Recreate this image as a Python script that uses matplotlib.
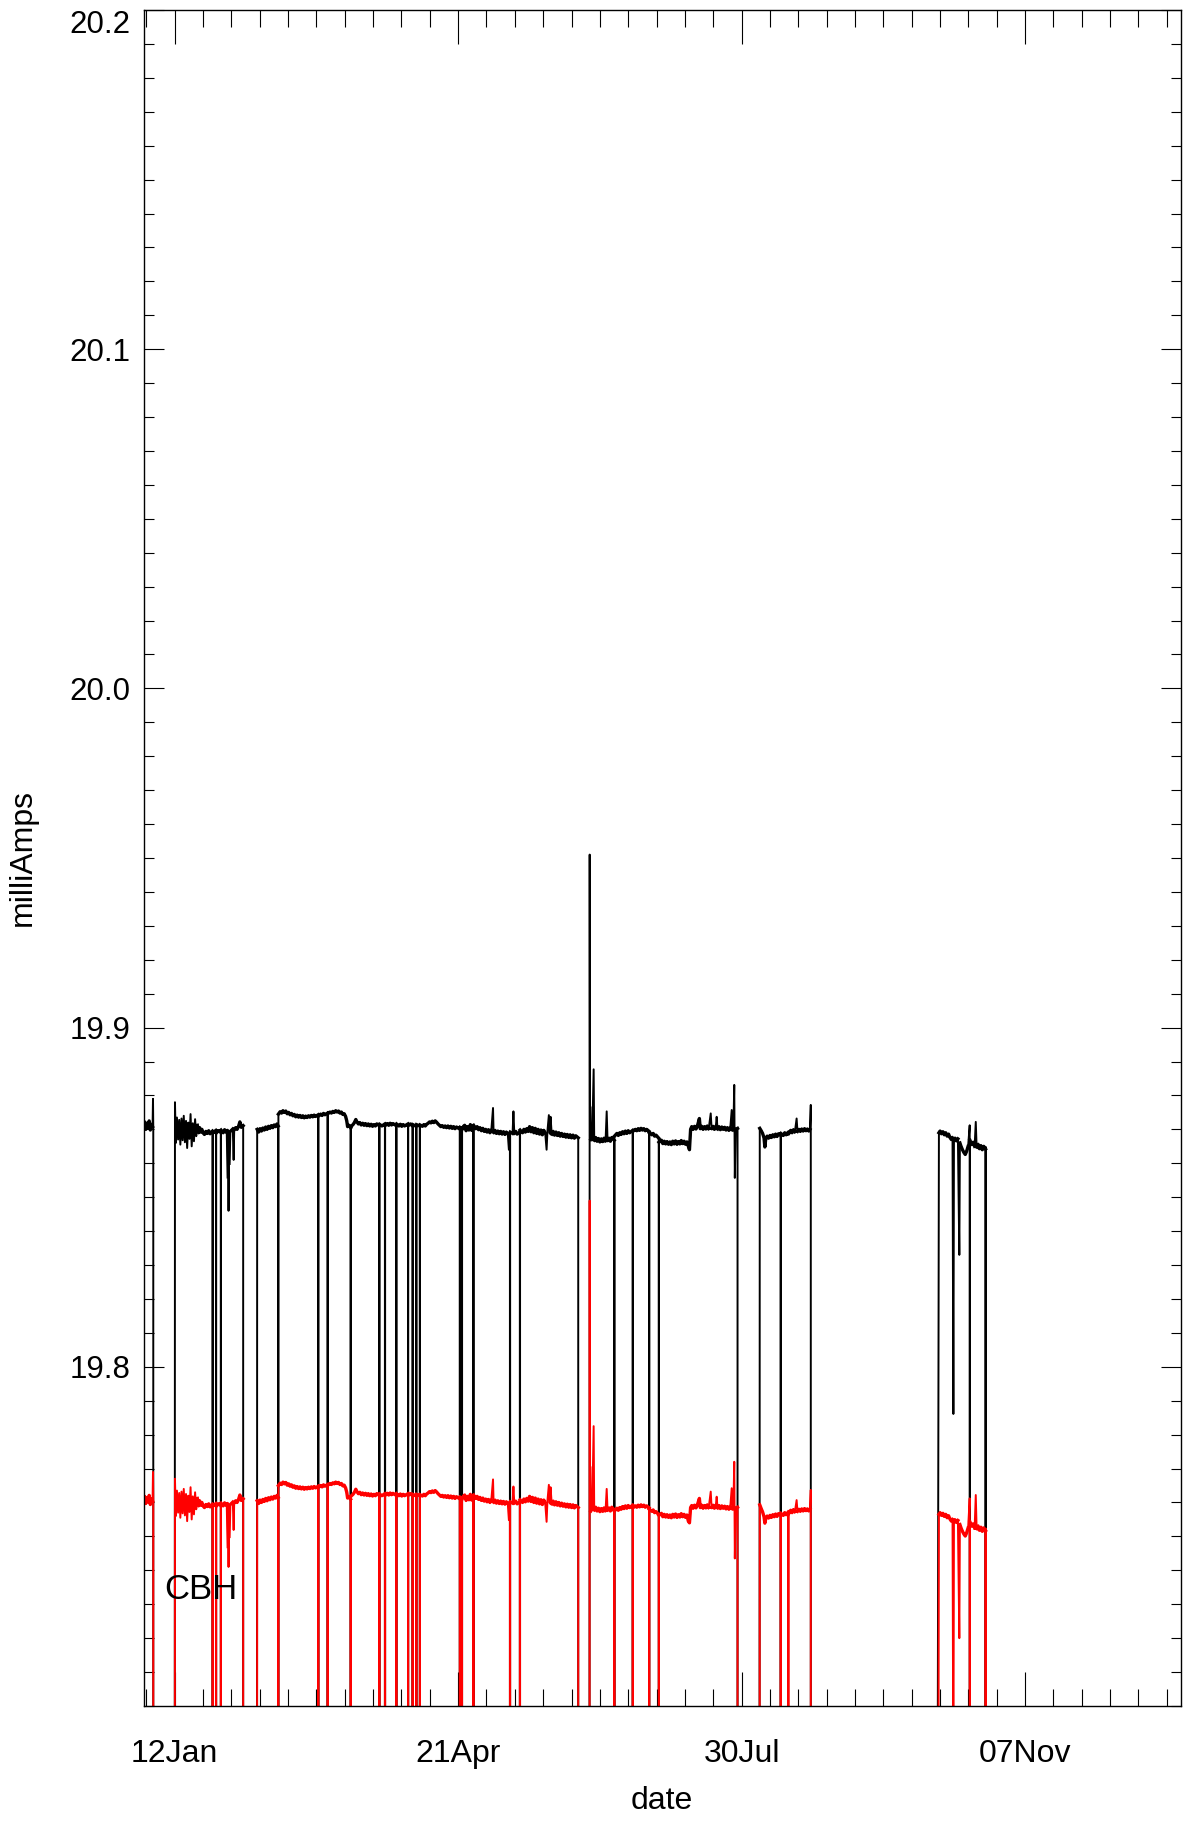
import numpy as np
import matplotlib
matplotlib.use("Agg")
import matplotlib.pyplot as plt
import matplotlib.dates as mdates
from matplotlib.ticker import FixedLocator, MultipleLocator

plt.rcParams['font.family'] = ['Liberation Sans', 'DejaVu Sans']

year_start = np.datetime64('2008-01-01T00:00')

# days since 1 Jan, CBH current (mA) black trace and red trace, one block per data stretch
d1 = [0.0, 0.4, 0.8, 1.2, 1.6, 2.0, 2.4, 2.8, 3.2, 3.35, 3.45]
b1 = [19.8712, 19.8722, 19.8700, 19.8718, 19.8705, 19.8725, 19.8698, 19.8715, 19.8708, 19.8790, 19.8705]
r1 = [19.7608, 19.7618, 19.7597, 19.7614, 19.7602, 19.7621, 19.7594, 19.7611, 19.7604, 19.7690, 19.7600]

d2 = [11.1, 11.4, 11.8, 12.2, 12.6, 13.0, 13.4, 13.8, 14.2, 14.6, 15.0, 15.4, 15.8, 16.2, 16.6, 17.0,
      17.4, 17.8, 18.2, 18.6, 19.0, 19.4, 19.8, 20.2, 20.6,
      21.0, 21.5, 22.0, 22.5, 23.0, 23.5, 24.36,
      24.44, 25.56, 25.64, 26.4, 27.26, 27.34, 28.1, 28.6, 29.1, 29.6,
      29.9, 30.0, 30.15, 30.4,
      31.0, 31.5, 31.8, 32.0, 32.5, 33.0, 33.5, 34.0, 34.5, 35.16]
b2 = [19.8780, 19.8660, 19.8735, 19.8670, 19.8728, 19.8655, 19.8732, 19.8668, 19.8740, 19.8662, 19.8725,
      19.8645, 19.8720, 19.8672, 19.8745, 19.8650, 19.8718, 19.8665, 19.8730, 19.8680, 19.8712, 19.8690,
      19.8705, 19.8692, 19.8700,
      19.8690, 19.8685, 19.8694, 19.8688, 19.8696, 19.8687, 19.8695,
      19.8690, 19.8697, 19.8689, 19.8696, 19.8691, 19.8698, 19.8690, 19.8699, 19.8692, 19.8697,
      19.8560, 19.8460, 19.8600, 19.8692,
      19.8697, 19.8701, 19.8610, 19.8699, 19.8705, 19.8700, 19.8708, 19.8722, 19.8706, 19.8711]
r2 = [19.7670, 19.7560, 19.7635, 19.7570, 19.7628, 19.7555, 19.7632, 19.7568, 19.7640, 19.7562, 19.7625,
      19.7545, 19.7620, 19.7572, 19.7645, 19.7550, 19.7618, 19.7565, 19.7630, 19.7580, 19.7612, 19.7590,
      19.7605, 19.7592, 19.7600,
      19.7590, 19.7585, 19.7594, 19.7588, 19.7596, 19.7587, 19.7595,
      19.7590, 19.7597, 19.7589, 19.7596, 19.7591, 19.7598, 19.7590, 19.7599, 19.7592, 19.7597,
      19.7470, 19.7410, 19.7500, 19.7592,
      19.7597, 19.7601, 19.7519, 19.7599, 19.7605, 19.7600, 19.7608, 19.7622, 19.7606, 19.7611]

d3a = [40.1, 40.6, 41.1, 41.6, 42.1, 42.6, 43.1, 43.6, 44.1, 44.6, 45.1, 45.6, 46.1, 46.6, 47.1, 47.51,
       47.59, 48.2, 48.7, 49.2, 49.7, 50.2, 50.7, 51.2, 51.7, 52.2, 52.7, 53.2, 53.7, 54.2, 54.7, 55.2,
       55.7, 56.2, 56.7, 57.2, 57.7, 58.2, 58.7, 59.2, 59.7, 60.2, 60.7, 61.62,
       61.7, 62.5, 63.0, 63.5, 64.0, 64.93,
       65.01, 65.8, 66.3, 66.8, 67.3, 67.8, 68.3, 68.8, 69.3, 69.8, 70.3, 70.8,
       71.3, 71.7, 72.0, 72.5, 73.06]
b3a = [19.8700, 19.8692, 19.8702, 19.8695, 19.8704, 19.8698, 19.8707, 19.8700, 19.8709, 19.8703, 19.8711,
       19.8705, 19.8713, 19.8708, 19.8716, 19.8710,
       19.8745, 19.8752, 19.8748, 19.8755, 19.8750, 19.8754, 19.8746, 19.8750, 19.8743, 19.8747, 19.8740,
       19.8744, 19.8737, 19.8742, 19.8736, 19.8741, 19.8735, 19.8740, 19.8734, 19.8739, 19.8735, 19.8740,
       19.8736, 19.8741, 19.8737, 19.8742, 19.8738, 19.8743,
       19.8739, 19.8745, 19.8741, 19.8747, 19.8743, 19.8748,
       19.8746, 19.8751, 19.8748, 19.8753, 19.8750, 19.8755, 19.8751, 19.8754, 19.8748, 19.8751, 19.8744,
       19.8746,
       19.8738, 19.8725, 19.8708, 19.8712, 19.8705]
r3a = [19.7605, 19.7597, 19.7607, 19.7600, 19.7609, 19.7603, 19.7612, 19.7605, 19.7614, 19.7608, 19.7616,
       19.7610, 19.7618, 19.7613, 19.7621, 19.7615,
       19.7650, 19.7657, 19.7653, 19.7660, 19.7655, 19.7659, 19.7651, 19.7655, 19.7648, 19.7652, 19.7645,
       19.7649, 19.7642, 19.7647, 19.7641, 19.7646, 19.7640, 19.7645, 19.7639, 19.7644, 19.7640, 19.7645,
       19.7641, 19.7646, 19.7642, 19.7647, 19.7643, 19.7648,
       19.7644, 19.7650, 19.7646, 19.7652, 19.7648, 19.7653,
       19.7651, 19.7656, 19.7653, 19.7658, 19.7655, 19.7660, 19.7656, 19.7659, 19.7653, 19.7656, 19.7649,
       19.7651,
       19.7643, 19.7630, 19.7613, 19.7617, 19.7610]

d3b = [73.14, 73.9, 74.4, 74.9, 75.3, 75.8, 76.3, 76.8, 77.3, 77.8, 78.3, 78.8, 79.3, 79.8, 80.3, 80.8,
       81.3, 81.8, 82.3, 83.16,
       83.24, 84.1, 85.16,
       85.24, 86.0, 86.5, 87.0, 87.5, 88.0, 89.16,
       89.24, 90.1, 90.6, 91.1, 91.6, 92.1, 93.31,
       93.39, 94.2, 94.91,
       94.99, 96.21,
       96.29, 97.46,
       97.54, 98.4, 98.9, 99.4, 99.9, 100.4, 100.9, 101.4, 101.9, 102.4, 102.9, 103.4, 103.9, 104.4,
       104.9, 105.4, 105.9, 106.4, 106.9, 107.4, 107.9, 108.4, 108.9, 109.4, 109.9, 110.4, 111.56,
       111.64, 112.31, 112.39, 112.9, 113.3, 113.8, 114.3, 114.8, 115.3, 115.8, 116.36]
b3b = [19.8708, 19.8714, 19.8720, 19.8729, 19.8722, 19.8716, 19.8720, 19.8713, 19.8718, 19.8712, 19.8717,
       19.8711, 19.8716, 19.8710, 19.8715, 19.8709, 19.8714, 19.8710, 19.8716, 19.8711,
       19.8715, 19.8710, 19.8716,
       19.8711, 19.8717, 19.8712, 19.8718, 19.8713, 19.8717, 19.8711,
       19.8716, 19.8710, 19.8715, 19.8709, 19.8714, 19.8710, 19.8716,
       19.8711, 19.8716, 19.8710,
       19.8714, 19.8709,
       19.8714, 19.8710,
       19.8713, 19.8709, 19.8714, 19.8710, 19.8715, 19.8718, 19.8722, 19.8719, 19.8724, 19.8720, 19.8725,
       19.8721, 19.8716, 19.8712, 19.8708, 19.8711, 19.8706, 19.8710, 19.8705, 19.8710, 19.8704, 19.8709,
       19.8703, 19.8708, 19.8702, 19.8707, 19.8701,
       19.8706, 19.8703, 19.8700, 19.8709, 19.8712, 19.8696, 19.8708, 19.8698, 19.8714, 19.8697, 19.8704]
r3b = [19.7618, 19.7624, 19.7630, 19.7639, 19.7632, 19.7626, 19.7630, 19.7623, 19.7628, 19.7622, 19.7627,
       19.7621, 19.7626, 19.7620, 19.7625, 19.7619, 19.7624, 19.7620, 19.7626, 19.7621,
       19.7625, 19.7620, 19.7626,
       19.7621, 19.7627, 19.7622, 19.7628, 19.7623, 19.7627, 19.7621,
       19.7626, 19.7620, 19.7625, 19.7619, 19.7624, 19.7620, 19.7626,
       19.7621, 19.7626, 19.7620,
       19.7624, 19.7619,
       19.7624, 19.7620,
       19.7623, 19.7619, 19.7624, 19.7620, 19.7625, 19.7628, 19.7632, 19.7629, 19.7634, 19.7630, 19.7635,
       19.7631, 19.7626, 19.7622, 19.7618, 19.7621, 19.7616, 19.7620, 19.7615, 19.7620, 19.7614, 19.7619,
       19.7613, 19.7618, 19.7612, 19.7617, 19.7611,
       19.7616, 19.7613, 19.7610, 19.7619, 19.7622, 19.7606, 19.7618, 19.7608, 19.7624, 19.7607, 19.7614]

d3c = [116.44, 117.2, 117.7, 118.2, 118.7, 119.2, 119.7, 120.2, 120.7, 121.2, 121.7, 122.2, 122.7,
       123.3,
       123.5, 124.0, 124.5, 125.0, 125.5, 126.0, 126.5, 127.0, 127.5, 128.0, 128.5,
       128.9, 129.26,
       129.34, 130.2, 130.5, 130.8, 131.3, 131.8, 132.76,
       132.84, 133.7, 134.2, 134.7, 135.2, 135.7, 136.2, 136.7, 137.2, 137.7, 138.2, 138.7, 139.2, 139.7,
       140.2, 140.7, 141.2, 141.7,
       142.2, 142.5, 143.0, 143.3, 143.6,
       144.0, 144.5, 145.0, 145.5, 146.0, 146.5, 147.0, 147.5, 148.0, 148.5, 149.0, 149.5, 150.0, 150.5,
       151.0, 151.5, 152.0, 152.5, 153.36]
b3c = [19.8712, 19.8702, 19.8708, 19.8699, 19.8705, 19.8696, 19.8703, 19.8694, 19.8700, 19.8692, 19.8699,
       19.8690, 19.8697,
       19.8763,
       19.8691, 19.8697, 19.8688, 19.8695, 19.8687, 19.8694, 19.8686, 19.8693, 19.8685, 19.8692, 19.8687,
       19.8640, 19.8690,
       19.8692, 19.8688, 19.8753, 19.8689, 19.8694, 19.8686, 19.8692,
       19.8698, 19.8690, 19.8700, 19.8692, 19.8702, 19.8694, 19.8708, 19.8693, 19.8705, 19.8690, 19.8703,
       19.8688, 19.8700, 19.8686, 19.8698, 19.8684, 19.8697, 19.8690,
       19.8640, 19.8695, 19.8742, 19.8688, 19.8737,
       19.8686, 19.8694, 19.8683, 19.8692, 19.8682, 19.8690, 19.8680, 19.8688, 19.8679, 19.8686, 19.8677,
       19.8685, 19.8676, 19.8684, 19.8675, 19.8683, 19.8674, 19.8681, 19.8675]
r3c = [19.7622, 19.7612, 19.7618, 19.7609, 19.7615, 19.7606, 19.7613, 19.7604, 19.7610, 19.7602, 19.7609,
       19.7600, 19.7607,
       19.7668,
       19.7601, 19.7607, 19.7598, 19.7605, 19.7597, 19.7604, 19.7596, 19.7603, 19.7595, 19.7602, 19.7597,
       19.7548, 19.7600,
       19.7602, 19.7598, 19.7647, 19.7599, 19.7604, 19.7596, 19.7602,
       19.7608, 19.7600, 19.7610, 19.7602, 19.7612, 19.7604, 19.7618, 19.7603, 19.7615, 19.7600, 19.7613,
       19.7598, 19.7610, 19.7596, 19.7608, 19.7594, 19.7607, 19.7600,
       19.7543, 19.7605, 19.7652, 19.7598, 19.7645,
       19.7596, 19.7604, 19.7593, 19.7602, 19.7592, 19.7600, 19.7590, 19.7598, 19.7589, 19.7596, 19.7587,
       19.7595, 19.7586, 19.7594, 19.7585, 19.7593, 19.7584, 19.7591, 19.7585]

d4 = [157.4, 157.5, 157.6, 157.8, 158.3, 158.8,
      159.0, 159.5, 160.0, 160.5, 161.0, 161.5, 162.0, 162.5, 163.0,
      163.4,
      163.7, 164.2, 164.7, 165.2, 166.06,
      166.14, 167.0, 167.5, 168.0, 168.5, 169.0, 169.5, 170.0, 170.5, 171.0, 171.5, 172.56,
      172.64, 173.5, 174.0, 174.5, 175.0, 175.5, 176.0, 176.5, 177.0, 177.5, 178.36,
      178.44, 179.3, 179.8, 180.3, 180.8, 181.76,
      181.84, 182.7, 183.2, 183.7, 184.2, 184.7, 185.2, 185.7, 186.2, 186.7, 187.2, 187.7, 188.2, 188.7,
      189.2, 189.7, 190.2, 190.7, 191.2, 191.7,
      192.2, 192.6, 193.0,
      193.4, 193.9, 194.4, 194.9, 195.4,
      196.1,
      196.4, 196.9, 197.4, 197.9, 198.4, 198.9, 199.4,
      200.1,
      200.4, 200.9, 201.4, 201.9,
      202.2,
      202.5, 203.0, 203.5, 204.0, 204.5, 205.0, 205.5, 206.0, 206.5, 207.0,
      207.5, 207.8, 208.1, 208.4, 208.6, 208.9, 209.56]
b4 = [19.9510, 19.8680, 19.8767, 19.8670, 19.8675, 19.8877,
      19.8668, 19.8676, 19.8665, 19.8673, 19.8663, 19.8672, 19.8664, 19.8674, 19.8666,
      19.8753,
      19.8668, 19.8674, 19.8665, 19.8676, 19.8668,
      19.8680, 19.8688, 19.8682, 19.8690, 19.8685, 19.8693, 19.8687, 19.8695, 19.8688, 19.8696, 19.8690,
      19.8697,
      19.8694, 19.8700, 19.8696, 19.8702, 19.8697, 19.8703, 19.8698, 19.8702, 19.8696, 19.8700, 19.8694,
      19.8690, 19.8684, 19.8688, 19.8680, 19.8683, 19.8674,
      19.8662, 19.8668, 19.8658, 19.8665, 19.8657, 19.8664, 19.8656, 19.8663, 19.8655, 19.8665, 19.8657,
      19.8666, 19.8656, 19.8664, 19.8657, 19.8667, 19.8658, 19.8665, 19.8656, 19.8663,
      19.8650, 19.8640, 19.8700,
      19.8708, 19.8700, 19.8709, 19.8701, 19.8710,
      19.8732,
      19.8702, 19.8709, 19.8700, 19.8708, 19.8701, 19.8710, 19.8702,
      19.8747,
      19.8703, 19.8709, 19.8700, 19.8708,
      19.8737,
      19.8701, 19.8708, 19.8699, 19.8707, 19.8700, 19.8706, 19.8698, 19.8705, 19.8697, 19.8704,
      19.8757, 19.8698, 19.8704, 19.8831, 19.8557, 19.8700, 19.8703]
r4 = [19.8490, 19.7580, 19.7706, 19.7575, 19.7582, 19.7825,
      19.7578, 19.7586, 19.7575, 19.7583, 19.7573, 19.7582, 19.7574, 19.7584, 19.7576,
      19.7640,
      19.7578, 19.7584, 19.7575, 19.7586, 19.7578,
      19.7575, 19.7583, 19.7577, 19.7585, 19.7580, 19.7588, 19.7582, 19.7590, 19.7583, 19.7591, 19.7585,
      19.7592,
      19.7584, 19.7590, 19.7586, 19.7592, 19.7587, 19.7593, 19.7588, 19.7592, 19.7586, 19.7590, 19.7584,
      19.7580, 19.7574, 19.7578, 19.7570, 19.7573, 19.7564,
      19.7562, 19.7568, 19.7558, 19.7565, 19.7557, 19.7564, 19.7556, 19.7563, 19.7555, 19.7565, 19.7557,
      19.7566, 19.7556, 19.7564, 19.7557, 19.7567, 19.7558, 19.7565, 19.7556, 19.7563,
      19.7545, 19.7540, 19.7585,
      19.7591, 19.7583, 19.7592, 19.7584, 19.7593,
      19.7612,
      19.7585, 19.7592, 19.7583, 19.7591, 19.7584, 19.7593, 19.7585,
      19.7632,
      19.7586, 19.7592, 19.7583, 19.7591,
      19.7617,
      19.7584, 19.7591, 19.7582, 19.7590, 19.7583, 19.7589, 19.7581, 19.7588, 19.7580, 19.7587,
      19.7642, 19.7581, 19.7587, 19.7720, 19.7435, 19.7583, 19.7586]

d5 = [217.4, 217.9, 218.4, 218.9, 219.2, 219.5, 220.0, 220.5, 221.0, 221.5, 222.0, 222.5, 223.0, 223.5,
      224.0, 224.76, 224.84, 225.7, 226.2, 226.7, 227.46, 227.54, 228.3, 228.8, 229.3, 229.8, 230.4,
      230.7, 231.2, 231.7, 232.2, 232.7, 233.2, 233.7, 234.2, 234.7, 235.1, 235.4]
b5 = [19.8703, 19.8696, 19.8688, 19.8675, 19.8648, 19.8672, 19.8680, 19.8674, 19.8682, 19.8676, 19.8684,
      19.8678, 19.8686, 19.8679, 19.8687, 19.8682, 19.8688, 19.8682, 19.8690, 19.8684, 19.8692, 19.8686,
      19.8697, 19.8690, 19.8699, 19.8693, 19.8732, 19.8694, 19.8700, 19.8694, 19.8701, 19.8695, 19.8702,
      19.8696, 19.8701, 19.8695, 19.8700, 19.8772]
r5 = [19.7593, 19.7582, 19.7572, 19.7558, 19.7539, 19.7552, 19.7560, 19.7554, 19.7562, 19.7556, 19.7564,
      19.7558, 19.7566, 19.7559, 19.7567, 19.7562, 19.7568, 19.7562, 19.7570, 19.7564, 19.7572, 19.7566,
      19.7577, 19.7570, 19.7579, 19.7573, 19.7607, 19.7574, 19.7580, 19.7574, 19.7581, 19.7575, 19.7582,
      19.7576, 19.7581, 19.7575, 19.7580, 19.7637]

d6 = [280.6, 281.0, 281.5, 282.0, 282.5, 283.0, 283.5, 284.0, 284.5, 285.0, 285.4, 285.7, 285.9, 286.3,
      286.8, 287.3, 287.8, 288.0, 288.4, 288.9, 289.4, 289.9, 290.4, 290.9, 291.46, 291.54, 292.2, 292.7,
      293.2, 293.6, 293.9, 294.4, 294.9, 295.4, 295.9, 296.4, 297.06, 297.14]
b6 = [19.8690, 19.8695, 19.8687, 19.8693, 19.8684, 19.8690, 19.8680, 19.8686, 19.8676, 19.8670, 19.8675,
      19.7861, 19.8668, 19.8674, 19.8666, 19.8672, 19.8330, 19.8660, 19.8650, 19.8640, 19.8632, 19.8626,
      19.8636, 19.8650, 19.8712, 19.8668, 19.8655, 19.8662, 19.8650, 19.8722, 19.8648, 19.8656, 19.8643,
      19.8652, 19.8640, 19.8650, 19.8642, 19.8648]
r6 = [19.7565, 19.7570, 19.7562, 19.7568, 19.7559, 19.7565, 19.7555, 19.7561, 19.7551, 19.7545, 19.7550,
      19.6740, 19.7543, 19.7549, 19.7541, 19.7547, 19.7200, 19.7535, 19.7525, 19.7515, 19.7507, 19.7501,
      19.7511, 19.7525, 19.7612, 19.7543, 19.7530, 19.7537, 19.7525, 19.7622, 19.7523, 19.7531, 19.7518,
      19.7527, 19.7515, 19.7525, 19.7517, 19.7523]

# days where the reading drops to zero
black_drops = [3.5, 24.4, 25.6, 27.3, 35.2, 47.55, 61.66, 64.97, 73.1, 83.2, 85.2, 89.2, 93.35, 94.95,
               96.25, 97.5, 111.6, 112.35, 116.4, 129.3, 132.8, 153.4, 166.1, 172.6, 178.4, 181.8,
               209.6, 224.8, 235.5, 291.5, 297.1, 297.2]
red_drops = black_drops + [227.5]

day = d1 + d2 + d3a + d3b + d3c + d4 + d5 + d6
black = b1 + b2 + b3a + b3b + b3c + b4 + b5 + b6
red = r1 + r2 + r3a + r3b + r3c + r4 + r5 + r6
assert len(day) == len(black) == len(red)


def with_drops(days, vals, drops, fill=0.0):
    x = np.array(days + drops, dtype=float)
    y = np.array(vals + [fill] * len(drops))
    order = np.argsort(x, kind='stable')
    t = year_start + np.round(x[order] * 1440).astype(np.int64).astype('timedelta64[m]')
    return t, y[order]


def band_only(v, thr=0.0025):
    # keep the steady band, leave isolated spikes/dips to the thin line
    prev = np.r_[np.nan, v[:-1]]
    nxt = np.r_[v[1:], np.nan]
    d1_, d2_ = v - prev, v - nxt
    up = (np.nan_to_num(d1_, nan=np.inf) > thr) & (np.nan_to_num(d2_, nan=np.inf) > thr)
    dn = (np.nan_to_num(d1_, nan=-np.inf) < -thr) & (np.nan_to_num(d2_, nan=-np.inf) < -thr)
    out = v.copy()
    out[up | dn] = np.nan
    return out


fig = plt.figure(figsize=(11.83, 18.21), dpi=100)
ax = fig.add_axes([143.5 / 1183, 1 - 1706 / 1821, (1181 - 143.5) / 1183, (1706 - 10) / 1821])

for vals, drops, col in [(black, black_drops, 'black'), (red, red_drops, 'red')]:
    t, v = with_drops(day, vals, drops)
    ax.plot(t, v, color=col, lw=1.4)
    t, v = with_drops(day, vals, drops, fill=np.nan)
    ax.plot(t, band_only(v), color=col, lw=2.4)

ax.set_xlim(np.datetime64('2008-01-01'), np.datetime64('2009-01-01'))
ax.set_ylim(19.7, 20.2)

major_dates = np.arange(np.datetime64('2008-01-12'), np.datetime64('2009-01-01'), 100)
minor_dates = np.arange(np.datetime64('2008-01-02'), np.datetime64('2009-01-01'), 10)
ax.xaxis.set_major_locator(FixedLocator(mdates.date2num(major_dates)))
ax.xaxis.set_minor_locator(FixedLocator(mdates.date2num(minor_dates)))
ax.xaxis.set_major_formatter(mdates.DateFormatter('%d%b'))

ax.set_yticks([19.8, 19.9, 20.0, 20.1, 20.2])
ax.set_yticklabels(['19.8', '19.9', '20.0', '20.1', '20.2'])
ax.yaxis.set_minor_locator(MultipleLocator(0.01))

ax.tick_params(which='both', direction='in', top=True, right=True, width=0.8)
ax.tick_params(axis='x', which='major', length=24.5, pad=24, labelsize=23)
ax.tick_params(axis='x', which='minor', length=12.2)
ax.tick_params(axis='y', which='major', length=14.4, pad=9.5, labelsize=22.5)
ax.tick_params(axis='y', which='minor', length=7.2)
ax.get_yticklabels()[-1].set_va('top')

for s in ax.spines.values():
    s.set_linewidth(1.0)

ax.set_xlabel('date', fontsize=23)
ax.xaxis.set_label_coords(0.5, -0.047)
ax.set_ylabel('milliAmps', fontsize=23)
ax.yaxis.set_label_coords(-0.1017, 0.5)

ax.text(0.0198, 0.0631, 'CBH', transform=ax.transAxes, fontsize=25, va='baseline', ha='left')

fig.savefig('out.png', dpi=100)
